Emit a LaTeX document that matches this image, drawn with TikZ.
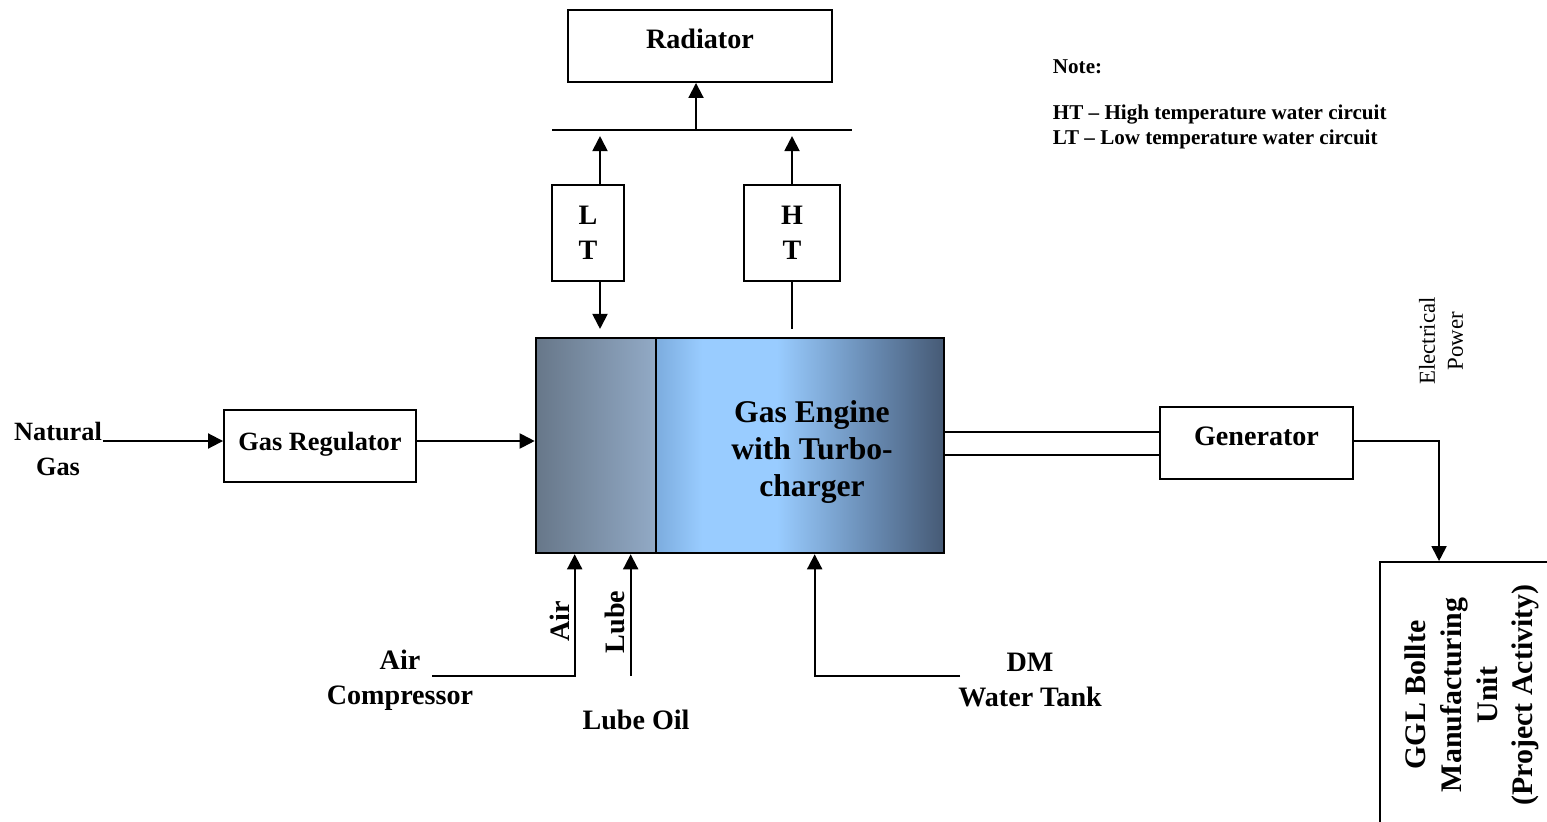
\documentclass[tikz,border=0pt]{standalone}
\usepackage{fontspec}
\setmainfont{Liberation Serif}
\usetikzlibrary{arrows.meta}
\RequirePackage{xcolor}

\definecolor{engLa}{RGB}{103,119,137}
\definecolor{engLb}{RGB}{146,170,198}
\definecolor{engRa}{RGB}{124,172,222}
\definecolor{engRb}{RGB}{153,204,255}
\definecolor{engRc}{RGB}{105,140,180}
\definecolor{engRd}{RGB}{70,90,117}
\pgfdeclarehorizontalshading{engineshade}{100bp}{color(0bp)=(engRa); color(25bp)=(engRa); color(33bp)=(engRb); color(46bp)=(engRb); color(62bp)=(engRc); color(75bp)=(engRd); color(100bp)=(engRd)}

\begin{document}
\begin{tikzpicture}[x=0.02cm, y=-0.02cm, line width=1.1pt,
	box/.style={draw, inner sep=0pt, align=center, font=\fontsize{16}{20}\selectfont\bfseries},
	txt/.style={inner sep=0pt, align=center, font=\fontsize{16}{20}\selectfont\bfseries},
	enginepart/.style={draw, line width=1.5pt, inner sep=0pt, minimum height=4.3cm},
	arr/.style={-{Triangle[length=0.3cm,width=0.3cm]}}]
	\useasboundingbox (0,0) rectangle (1547,821);

	% cooling side
	\node[box, minimum width=5.28cm, minimum height=1.44cm, text depth=8pt] (rad) at (700,46) {Radiator};
	\node[box, minimum width=1.44cm, minimum height=1.92cm] (lt) at (588,233) {L\\T};
	\node[box, minimum width=1.92cm, minimum height=1.92cm] (ht) at (792,233) {H\\T};
	\coordinate (busL) at (552,130);
	\coordinate (busR) at (852,130);
	\draw (busL) -- (busR);
	\draw[arr] ([xshift=-0.08cm]rad.south |- busL) -- ([xshift=-0.08cm]rad.south);
	\draw[arr] ([xshift=0.24cm]lt.north) -- ++(0,-48);
	\draw[arr] ([xshift=0.24cm]lt.south) -- ++(0,47);
	\draw[arr] (ht.north) -- ++(0,-48);
	\draw (ht.south) -- ++(0,47);

	% engine
	\node[enginepart, minimum width=2.4cm, left color=engLa, right color=engLb] (engL) at (596,445.5) {};
	\node[enginepart, minimum width=5.76cm, shade, shading=engineshade] (engR) at (800,445.5) {};
	\node[txt, font=\fontsize{18}{21.3}\selectfont\bfseries] (engtxt) at (812,452) {Gas Engine\\with Turbo-\\charger};

	% gas line
	\node[txt, font=\fontsize{15}{20}\selectfont\bfseries] (ng) at (58,449) {Natural\\Gas};
	\node[box, minimum width=3.84cm, minimum height=1.44cm, text depth=5pt, font=\fontsize{15}{20}\selectfont\bfseries] (reg) at (320,446) {Gas Regulator};
	\coordinate (regin) at ([yshift=0.1cm]reg.west);
	\coordinate (regout) at ([yshift=0.1cm]reg.east);
	\draw[arr] (ng.east |- regin) -- (regin);
	\draw[arr] (regout) -- (regout -| engL.west);

	% generator and load
	\node[box, minimum width=3.86cm, minimum height=1.44cm, text depth=8pt] (gen) at (1256.5,443) {Generator};
	\coordinate (g1) at ([yshift=0.22cm]gen.west);
	\coordinate (g2) at ([yshift=-0.24cm]gen.west);
	\draw (g1) -- (g1 -| engR.east);
	\draw (g2) -- (g2 -| engR.east);
	\node[inner sep=0pt, align=center, rotate=90, font=\fontsize{13}{16}\selectfont] (elec) at (1441,341) {Electrical\\Power};
	\node[draw, minimum width=4cm, minimum height=6cm] (ggl) at (1480,712) {};
	\node[txt, rotate=90, font=\fontsize{17}{20.4}\selectfont\bfseries] (ggltxt) at (1472,695) {GGL Bollte\\Manufacturing\\Unit\\(Project Activity)};
	\draw[arr] ([yshift=0.04cm]gen.east) -| ([xshift=1.2cm]ggl.north west);

	% supplies from below
	\node[txt] (acomp) at (400,680) {Air\\Compressor};
	\node[txt] (lube) at (636,720) {Lube Oil};
	\node[txt] (dm) at (1030,680) {DM\\Water Tank};
	\node[txt, rotate=90] (airlbl) at (560,621) {Air};
	\node[txt, rotate=90] (lubelbl) at (615,622) {Lube};
	\coordinate (airin) at (432,676);
	\coordinate (airtop) at ([xshift=0.8cm]engL.south west);
	\coordinate (lubetop) at ([xshift=1.92cm]engL.south west);
	\coordinate (dmin) at (960,676);
	\coordinate (dmtop) at ([xshift=3.2cm]engR.south west);
	\draw[arr] (airin) -| (airtop);
	\draw[arr] (lubetop |- airin) -- (lubetop);
	\draw[arr] (dmin) -| (dmtop);

	% note
	\node[inner sep=0pt, anchor=west, font=\fontsize{12}{14}\selectfont\bfseries] (note) at (1052,67) {Note:};
	\node[inner sep=0pt, anchor=west, font=\fontsize{12}{14}\selectfont\bfseries] (htnote) at (1052,115) {HT -- High temperature water circuit};
	\node[inner sep=0pt, anchor=west, font=\fontsize{12}{14}\selectfont\bfseries] (ltnote) at (1052,139) {LT -- Low temperature water circuit};
\end{tikzpicture}
\end{document}
